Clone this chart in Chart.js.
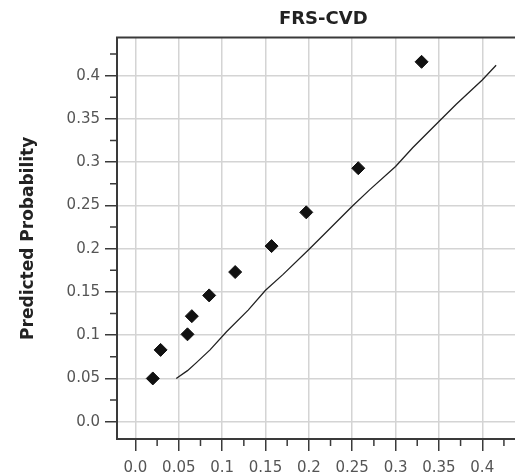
<!doctype html>
<html lang="en">
<head>
<meta charset="utf-8">
<title>FRS-CVD</title>
<script src="https://cdn.jsdelivr.net/npm/chart.js@4.4.1/dist/chart.umd.min.js"></script>
<style>
  html, body { margin: 0; padding: 0; background: #fff; overflow: hidden; }
  /* plot frame runs a little past the right edge of the window */
  #wrap { width: 537px; height: 475px; position: relative; }
</style>
</head>
<body>
<div id="wrap"><canvas id="calib"></canvas></div>
<script>
// observed vs predicted risk by group
const observed = [0.020, 0.029, 0.060, 0.065, 0.085, 0.115, 0.157, 0.197, 0.257, 0.330];
const predicted = [0.050, 0.083, 0.101, 0.122, 0.146, 0.173, 0.203, 0.242, 0.293, 0.416];

// reference curve
const refX = [0.047, 0.060, 0.070, 0.086, 0.105, 0.130, 0.150, 0.170, 0.200, 0.220, 0.250, 0.270, 0.300, 0.320, 0.350, 0.370, 0.400, 0.416];
const refY = [0.050, 0.059, 0.068, 0.083, 0.104, 0.129, 0.152, 0.170, 0.199, 0.219, 0.249, 0.268, 0.295, 0.317, 0.347, 0.367, 0.395, 0.412];

const xTickValues = [0, 0.05, 0.1, 0.15, 0.2, 0.25, 0.3, 0.35, 0.4];
const xTickLabels = ['0.0', '0.05', '0.1', '0.15', '0.2', '0.25', '0.3', '0.35', '0.4'];
const yTickValues = [0, 0.05, 0.1, 0.15, 0.2, 0.25, 0.3, 0.35, 0.4];
const yTickLabels = ['0.0', '0.05', '0.1', '0.15', '0.2', '0.25', '0.3', '0.35', '0.4'];

const axisColor = '#3a3a3a';
const gridColor = '#d4d4d4';
const tickFont = { family: 'DejaVu Sans', size: 15 };

// top frame line + half-step minor ticks on both axes
const frameAndMinor = {
  id: 'frameAndMinor',
  afterDraw(chart) {
    const ctx = chart.ctx;
    const a = chart.chartArea;
    ctx.save();
    ctx.strokeStyle = axisColor;
    ctx.lineWidth = 2;
    ctx.beginPath();
    ctx.moveTo(a.left - 1, a.top);
    ctx.lineTo(a.right, a.top);
    ctx.stroke();

    ctx.lineWidth = 1.5;
    const xs = chart.scales.x, ys = chart.scales.y;
    const half = 0.025;
    ctx.beginPath();
    xTickValues.forEach(v => {
      const px = xs.getPixelForValue(v + half);
      if (px <= a.right) { ctx.moveTo(px, a.bottom); ctx.lineTo(px, a.bottom + 7); }
    });
    yTickValues.forEach(v => {
      const py = ys.getPixelForValue(v + half);
      if (py >= a.top) { ctx.moveTo(a.left - 7, py); ctx.lineTo(a.left, py); }
    });
    ctx.stroke();
    ctx.restore();
  }
};

new Chart(document.getElementById('calib'), {
  type: 'scatter',
  data: {
    datasets: [
      {
        label: 'Reference',
        data: refX.map((x, i) => ({ x: x, y: refY[i] })),
        showLine: true,
        borderColor: '#222',
        borderWidth: 1.3,
        pointRadius: 0,
        tension: 0
      },
      {
        label: 'Groups',
        data: observed.map((x, i) => ({ x: x, y: predicted[i] })),
        pointStyle: 'rectRot',
        pointRadius: 6.5,
        backgroundColor: '#111',
        borderColor: '#111',
        borderWidth: 1
      }
    ]
  },
  options: {
    responsive: true,
    maintainAspectRatio: false,
    animation: false,
    layout: { padding: 0 },
    plugins: {
      legend: { display: false },
      tooltip: { enabled: false },
      title: {
        display: true,
        text: 'FRS-CVD',
        fullSize: false,
        color: '#222',
        font: { family: 'DejaVu Sans', size: 18, weight: 'bold' },
        padding: { top: 9, bottom: 7 }
      }
    },
    scales: {
      x: {
        type: 'linear',
        min: -0.0213,
        max: 0.4545,
        afterBuildTicks: s => { s.ticks = xTickValues.map(v => ({ value: v })); },
        afterFit: s => { s.height = 36; s.paddingRight = 0; },
        ticks: {
          font: tickFont,
          color: '#555',
          padding: 8,
          maxRotation: 0,
          autoSkip: false,
          callback: (v, i) => xTickLabels[i]
        },
        grid: { color: gridColor, lineWidth: 1.5, tickColor: axisColor, tickWidth: 1.5, tickLength: 12 },
        border: { color: axisColor, width: 2 }
      },
      y: {
        type: 'linear',
        min: -0.02,
        max: 0.444,
        afterBuildTicks: s => { s.ticks = yTickValues.map(v => ({ value: v })); },
        afterFit: s => { s.width = 117; },
        ticks: {
          font: tickFont,
          color: '#555',
          padding: 5,
          autoSkip: false,
          callback: (v, i) => yTickLabels[i]
        },
        title: {
          display: true,
          text: 'Predicted Probability',
          color: '#222',
          font: { family: 'DejaVu Sans', size: 17, weight: 'bold' },
          padding: { top: 18, bottom: 0 }
        },
        grid: { color: gridColor, lineWidth: 1.5, tickColor: axisColor, tickWidth: 1.5, tickLength: 12 },
        border: { color: axisColor, width: 2 }
      }
    }
  },
  plugins: [frameAndMinor]
});
</script>
</body>
</html>
